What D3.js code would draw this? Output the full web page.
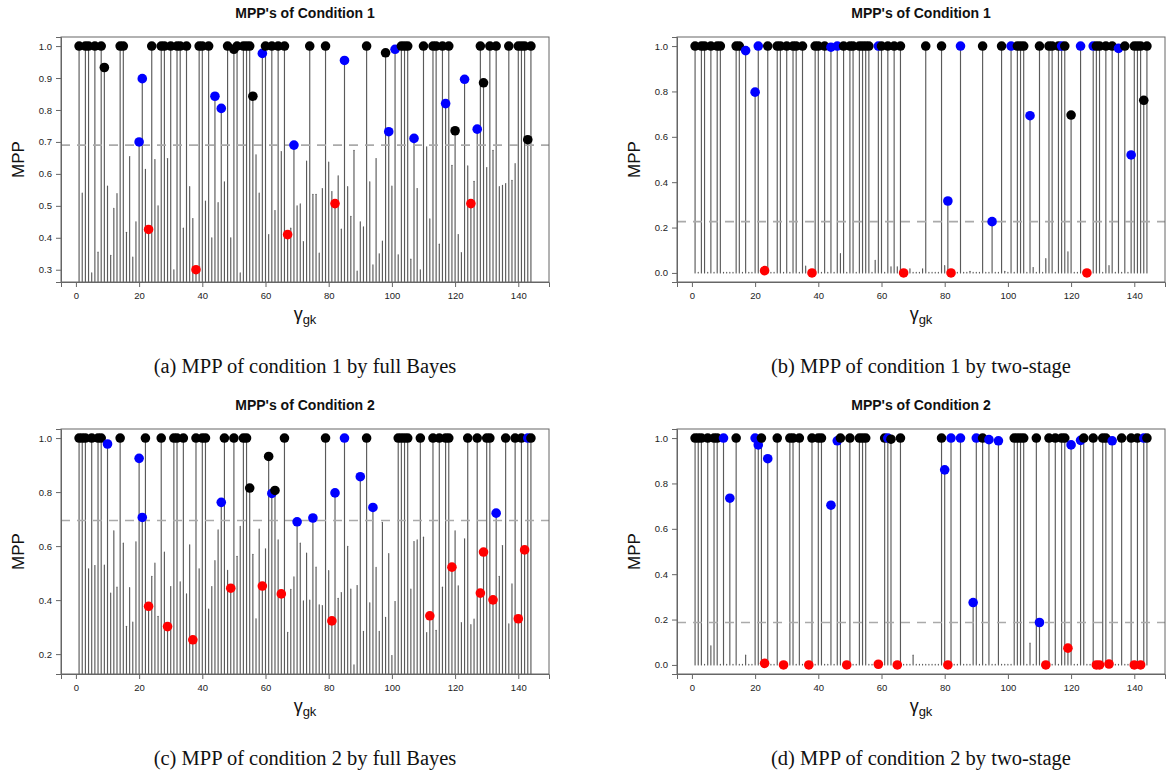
<!DOCTYPE html>
<html><head><meta charset="utf-8">
<script src="https://cdn.jsdelivr.net/npm/d3@7"></script>
<style>body{margin:0;background:#fff}</style>
</head><body>
<svg id="chart" width="1170" height="775" xmlns="http://www.w3.org/2000/svg"></svg>
<script>
// ---------- data (index 1..144) ----------
const mppA = [
 1,0.54,1,1,0.29,1,0.355,1,0.933,0.562,
 0.345,0.492,0.538,1,1,0.417,0.654,0.34,0.45,0.70,
 0.898,0.614,0.426,1,0.645,0.50,1,1,0.648,1,
 0.30,1,1,0.43,1,0.56,0.46,0.30,1,1,
 0.515,1,0.40,0.843,0.51,0.805,0.575,1,0.40,0.99,
 1,0.29,1,1,1,0.843,0.66,0.54,0.977,1,
 0.41,1,0.485,1,0.67,1,0.41,0.43,0.69,0.50,
 0.506,0.388,0.64,1,0.536,0.536,0.352,0.554,1,0.637,
 0.545,0.507,0.594,0.427,0.955,0.56,0.467,0.674,0.296,0.45,
 0.434,1,0.575,0.315,0.648,0.35,0.39,0.979,0.732,0.562,
 0.99,0.347,1,1,1,0.333,0.711,0.554,0.30,1,
 0.685,0.459,1,1,0.38,1,0.82,1,0.627,0.735,
 0.41,0.354,0.896,0.625,0.507,0.577,0.74,1,0.885,0.62,
 1,0.674,1,0.56,0.564,0.57,1,0.58,0.632,1,
 1,1,0.707,1];
const classA = "k-kk-k-kk-" + "---kk----b" + "b-rk--kk-k" + "-kk-k--rkk" + "-k-b-b-k-k" +
 "k-kkkk--bk" + "-k-k-kr-b-" + "---k----k-" + "-r--b-----" + "-k-----kb-" +
 "b-kkk-b--k" + "--kk-kbk-k" + "--b-r-bkk-" + "k-k---k--k" + "kkkk";

const mppB = [
 1,0.003,1,1,0.003,1,0.003,1,1,0.003,
 0.003,0.003,0.003,1,1,0.003,0.98,0.003,0.003,0.797,
 1,0.003,0.01,1,0.003,0.003,1,1,0.003,1,
 0.003,1,1,0.003,1,0.03,0.003,0.0,1,1,
 0.003,1,0.003,0.995,0.003,1,0.085,1,0.003,1,
 1,0.003,1,1,1,1,0.003,0.055,1,1,
 0.003,1,0.027,1,0.027,1,0.0,0.003,0.018,0.003,
 0.003,0.003,0.018,1,0.003,0.003,0.003,0.003,1,0.032,
 0.317,0.0,0.003,0.003,1,0.003,0.003,0.007,0.003,0.003,
 0.003,1,0.003,0.003,0.226,0.003,0.003,1,0.007,0.003,
 1,0.003,1,1,1,0.003,0.693,0.024,0.003,1,
 0.003,0.063,1,1,0.003,1,1,1,0.093,0.696,
 0.003,0.003,1,0.003,0.0,0.003,1,1,1,0.003,
 1,0.032,1,0.003,0.99,0.003,1,0.003,0.52,1,
 1,1,0.761,1];
const classB = "k-kk-k-kk-" + "---kk-b--b" + "b-rk--kk-k" + "-kk-k--rkk" + "-k-b-b-k-k" +
 "k-kkkk--bk" + "-k-k-kr---" + "---k----k-" + "br--b-----" + "-k--b--k--" +
 "b-kkk-b--k" + "--kk-kbk-k" + "--b-r-bkk-" + "k-k-b-k-bk" + "kkkk";

const mppC = [
 1,1,1,0.516,1,0.528,1,1,0.53,0.978,
 0.426,0.657,0.448,1,0.611,0.303,0.446,0.319,0.616,0.925,
 0.706,1,0.377,0.488,0.537,0.34,1,0.578,0.302,0.45,
 1,1,0.468,1,0.423,0.605,0.253,1,0.516,1,
 1,0.367,0.45,0.546,0.66,0.762,1,0.51,0.444,1,
 0.562,0.673,1,1,0.815,0.57,0.331,0.663,0.452,0.59,
 0.932,0.795,0.806,0.623,0.423,1,0.281,0.44,0.486,0.69,
 0.611,0.397,0.574,0.40,0.704,0.522,0.383,0.38,1,0.509,
 0.323,0.797,0.407,0.428,1,0.599,0.441,0.16,0.454,0.857,
 0.284,1,0.39,0.743,0.521,0.284,0.688,0.336,0.572,0.195,
 0.395,1,1,1,1,0.441,0.617,0.623,1,0.633,
 0.28,0.342,1,0.288,1,0.448,1,1,0.522,0.657,
 0.453,0.317,0.627,1,0.309,0.33,1,0.426,0.578,1,
 1,0.401,0.722,0.488,0.602,1,0.312,0.46,1,0.331,
 1,0.586,1,1];
const classC = "kkk-k-kk-b" + "---k-----b" + "bkr---k-r-" + "kk-k--rk-k" + "k----bk-rk" +
 "--kkk---r-" + "kbk-rk---b" + "----b---k-" + "rb--b----b" + "-k-b------" +
 "-kkkk---k-" + "-rk-k-kkr-" + "---k--krrk" + "krb--k--kr" + "krbk";

const mppD = [
 1,1,1,0.003,1,0.084,1,1,0.003,1,
 0.003,0.735,0.003,1,0.003,0.003,0.043,0.003,0.003,1,
 0.97,1,0.007,0.909,0.003,0.003,1,0.003,0.0,0.003,
 1,1,0.003,1,0.003,0.003,0.0,1,0.003,1,
 1,0.003,0.003,0.704,0.003,0.988,1,0.003,0.0,1,
 0.003,0.003,1,1,1,0.003,0.003,0.003,0.003,0.003,
 1,1,0.995,0.003,0.0,1,0.003,0.003,0.003,0.043,
 0.003,0.003,0.003,0.003,0.003,0.003,0.003,0.003,1,0.86,
 0.0,1,0.003,0.003,1,0.003,0.003,0.003,0.275,1,
 0.003,1,0.003,0.993,0.003,0.003,0.988,0.003,0.003,0.003,
 0.003,1,1,1,1,0.003,0.096,0.003,1,0.187,
 0.003,0.0,1,0.003,1,0.003,1,1,0.074,0.97,
 0.003,0.003,0.99,1,0.003,0.003,1,0.0,0.0,1,
 1,0.004,0.988,0.003,0.003,1,0.003,0.003,1,0.0,
 1,0.0,1,1];
const classD = "kkk-k-kk-b" + "-b-k-----b" + "bkrb--k-r-" + "kk-k--rk-k" + "k--b-bk-rk" +
 "--kkk---r-" + "kbk-rk----" + "--------kb" + "rb--b---bb" + "-k-b--b---" +
 "-kkkk---kb" + "-rk-k-kkrb" + "--bk--krrk" + "krb--k--kr" + "krbk";

const thresholds = [0.69, 0.226, 0.695, 0.187];
const xTicks = [0, 20, 40, 60, 80, 100, 120, 140];
const yTicksA = [0.3, 0.4, 0.5, 0.6, 0.7, 0.8, 0.9, 1.0];
const yTicksB = [0.0, 0.2, 0.4, 0.6, 0.8, 1.0];
const yTicksC = [0.2, 0.4, 0.6, 0.8, 1.0];
const yTicksD = [0.0, 0.2, 0.4, 0.6, 0.8, 1.0];
const titles = ["MPP's of Condition 1", "MPP's of Condition 1", "MPP's of Condition 2", "MPP's of Condition 2"];
const captions = ["(a) MPP of condition 1 by full Bayes", "(b) MPP of condition 1 by two-stage",
                  "(c) MPP of condition 2 by full Bayes", "(d) MPP of condition 2 by two-stage"];
const classColor = {k: "#000000", b: "#0000ff", r: "#ff0000"};

// ---------- layout ----------
const panels = [
  {vals: mppA, cls: classA, thr: thresholds[0], ticks: yTicksA, yDom: [0.2616, 1.0284], x0: 61, x1: 549, y0: 37, y1: 282, title: titles[0], cap: captions[0]},
  {vals: mppB, cls: classB, thr: thresholds[1], ticks: yTicksB, yDom: [-0.04, 1.04], x0: 677, x1: 1165, y0: 37, y1: 282, title: titles[1], cap: captions[1]},
  {vals: mppC, cls: classC, thr: thresholds[2], ticks: yTicksC, yDom: [0.1264, 1.0336], x0: 61, x1: 549, y0: 429, y1: 674, title: titles[2], cap: captions[2]},
  {vals: mppD, cls: classD, thr: thresholds[3], ticks: yTicksD, yDom: [-0.04, 1.04], x0: 677, x1: 1165, y0: 429, y1: 674, title: titles[3], cap: captions[3]}
];

const svg = d3.select("#chart");
const sans = "'Liberation Sans', Arial, Helvetica, sans-serif";
const serif = "'Liberation Serif', 'Times New Roman', serif";

panels.forEach((p, pi) => {
  const data = p.vals.map((v, i) => ({idx: i + 1, v: v, c: p.cls[i]}));
  const x = d3.scaleLinear().domain([1 - 0.04 * 143, 144 + 0.04 * 143]).range([p.x0, p.x1]);
  const y = d3.scaleLinear().domain(p.yDom).range([p.y1, p.y0]);
  const g = svg.append("g");

  const clipId = "clip" + pi;
  g.append("clipPath").attr("id", clipId).append("rect")
    .attr("x", p.x0).attr("y", p.y0).attr("width", p.x1 - p.x0).attr("height", p.y1 - p.y0);

  const plot = g.append("g").attr("clip-path", `url(#${clipId})`);
  plot.selectAll("line.spike").data(data).join("line")
    .attr("class", "spike")
    .attr("x1", d => x(d.idx)).attr("x2", d => x(d.idx))
    .attr("y1", y(0)).attr("y2", d => y(d.v))
    .attr("stroke", "#5a5a5a").attr("stroke-width", 1.15).attr("stroke-linecap", "round");

  plot.append("line")
    .attr("x1", p.x0).attr("x2", p.x1)
    .attr("y1", y(p.thr)).attr("y2", y(p.thr))
    .attr("stroke", "#aaaaaa").attr("stroke-width", 1.6).attr("stroke-dasharray", "9,7");

  g.selectAll("circle.pt").data(data.filter(d => d.c !== "-")).join("circle")
    .attr("class", "pt")
    .attr("cx", d => x(d.idx)).attr("cy", d => y(d.v)).attr("r", 4.8)
    .attr("fill", d => classColor[d.c]);

  // box
  g.append("rect").attr("x", p.x0).attr("y", p.y0)
    .attr("width", p.x1 - p.x0).attr("height", p.y1 - p.y0)
    .attr("fill", "none").attr("stroke", "#666").attr("stroke-width", 1);

  // axes
  const xAxis = d3.axisBottom(x).tickValues(xTicks).tickSize(5).tickPadding(5).tickFormat(d3.format("d"));
  const gx = g.append("g").attr("transform", `translate(0,${p.y1})`).call(xAxis);
  const yAxis = d3.axisLeft(y).tickValues(p.ticks).tickSize(5).tickPadding(4).tickFormat(d3.format(".1f"));
  const gy = g.append("g").attr("transform", `translate(${p.x0},0)`).call(yAxis);
  [gx, gy].forEach(a => {
    a.selectAll("path").attr("stroke", "#666");
    a.selectAll("line").attr("stroke", "#666");
    a.selectAll("text").attr("font-family", sans).attr("font-size", 9.5).attr("fill", "#222");
  });

  const cx = (p.x0 + p.x1) / 2;
  // title
  g.append("text").attr("x", cx).attr("y", p.y0 - 19)
    .attr("text-anchor", "middle").attr("font-family", sans).attr("font-weight", "bold")
    .attr("font-size", 14).attr("fill", "#111").text(p.title);
  // y label
  g.append("text").attr("transform", `translate(${p.x0 - 37},${(p.y0 + p.y1) / 2}) rotate(-90)`)
    .attr("text-anchor", "middle").attr("font-family", sans).attr("font-size", 17).attr("fill", "#111").text("MPP");
  // x label
  const xl = g.append("text").attr("x", cx).attr("y", p.y1 + 38)
    .attr("text-anchor", "middle").attr("font-family", sans).attr("font-size", 18).attr("fill", "#111");
  xl.append("tspan").text("γ");
  xl.append("tspan").attr("font-size", 13).attr("dy", 4).text("gk");
  // caption
  g.append("text").attr("x", cx).attr("y", p.y1 + 91)
    .attr("text-anchor", "middle").attr("font-family", serif).attr("font-size", 20.5).attr("fill", "#111").text(p.cap);
});
</script>
</body></html>
